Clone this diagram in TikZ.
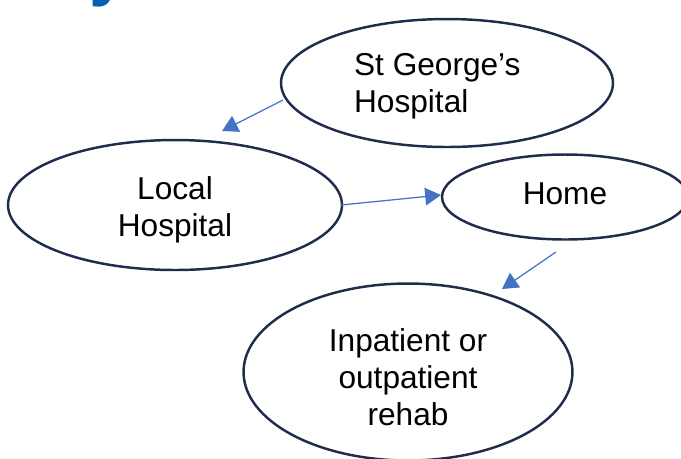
\documentclass[tikz,border=0pt]{standalone}
\usepackage{fontspec}
\setmainfont{Liberation Sans}
\usepackage{tikz}
\usetikzlibrary{arrows.meta,shapes,positioning}
\usepackage{xcolor}
\definecolor{ptnavy}{RGB}{31,44,76}
\definecolor{ptblue}{RGB}{68,114,196}
\definecolor{pttitle}{RGB}{0,96,180}
\tikzstyle{arrow} = [line width=0.7pt,-{Triangle[length=9pt,width=10pt]},color=ptblue]
\tikzstyle{place} = [ellipse, draw=ptnavy, line width=1.4pt, align=center, inner sep=0pt, font=\fontsize{18}{21}\selectfont]

\begin{document}
\begin{tikzpicture}[x=0.02cm, y=-0.02cm]
\useasboundingbox (0,0) rectangle (681,458);
% Title remainder
\node[anchor=base, text=pttitle, font=\fontsize{40}{44}\selectfont\bfseries] (title) at (109,-8) {y};

% Places
\node[place, align=left, minimum width=6.64cm, minimum height=2.56cm] (george) at (447,83) {\rule{0pt}{16.5pt}St George’s\kern11pt\\Hospital};
\node[place, minimum width=6.68cm, minimum height=2.60cm] (local) at (175,205) {\rule{0pt}{18.8pt}Local\\Hospital};
\node[place, minimum width=4.92cm, minimum height=1.70cm] (home) at (565,197) {\rule[-3.4pt]{0pt}{3.4pt}Home};
\node[place, minimum width=6.58cm, minimum height=3.54cm] (rehab) at (408,372) {\rule{0pt}{18.8pt}Inpatient or\\outpatient\\rehab};

% Arrows
\coordinate (a1) at (283,100);
\coordinate (b1) at (222,131);
\coordinate (a2) at (341,205);
\coordinate (b2) at (441,195);
\coordinate (a3) at (556,252);
\coordinate (b3) at (502,289);
\draw[arrow] (a1) -- (b1);
\draw[arrow] (a2) -- (b2);
\draw[arrow] (a3) -- (b3);
\end{tikzpicture}
\end{document}
